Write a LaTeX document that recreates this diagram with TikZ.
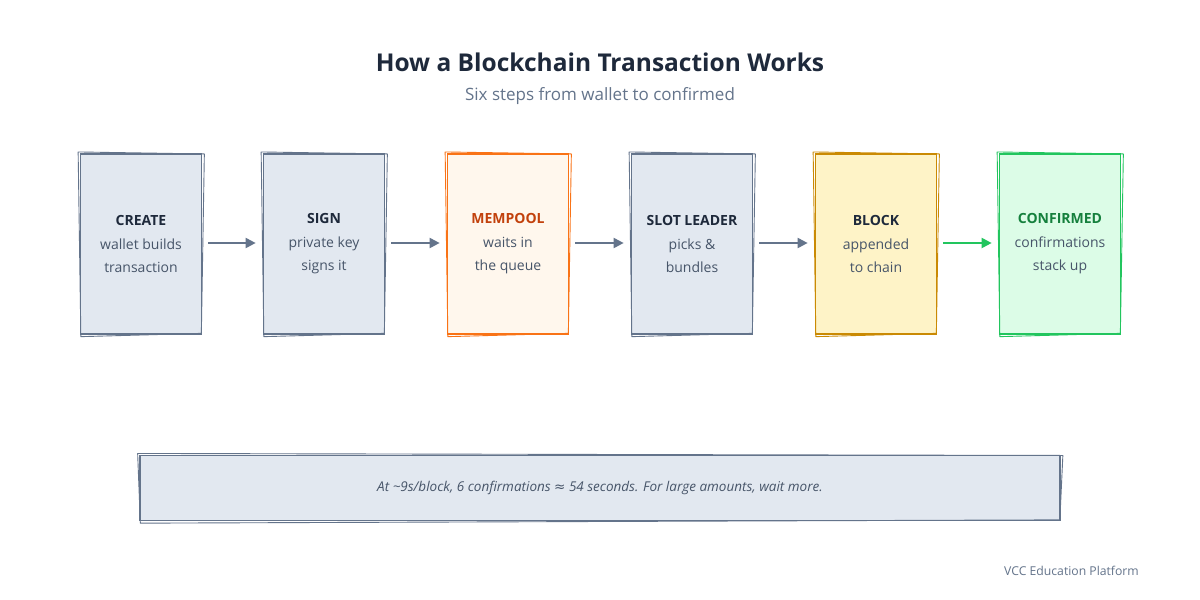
\documentclass[tikz,border=0pt]{standalone}
\usepackage{fontspec}
\setmainfont{Open Sans}
\newfontfamily\symfont{DejaVu Sans}
\usetikzlibrary{arrows.meta,positioning}
\definecolor{slatefill}{HTML}{E2E8F0}
\definecolor{slateline}{HTML}{64748B}
\definecolor{darktext}{HTML}{1E293B}
\definecolor{bodytext}{HTML}{475569}
\definecolor{subtext}{HTML}{64748B}
\definecolor{orfill}{HTML}{FFF7ED}
\definecolor{orline}{HTML}{F97316}
\definecolor{ortext}{HTML}{C2410C}
\definecolor{yefill}{HTML}{FEF3C7}
\definecolor{yeline}{HTML}{CA8A04}
\definecolor{grfill}{HTML}{DCFCE7}
\definecolor{grline}{HTML}{22C55E}
\definecolor{grtext}{HTML}{15803D}
\definecolor{foottext}{HTML}{64748B}
\newcommand{\roughbox}[2]{%
  \draw[#2,line width=0.9pt,line join=round]
    ([shift={(-1.5,-1.2)}]#1.north west) -- ([shift={(2,0.8)}]#1.north east)
    -- ([shift={(-1,-1.5)}]#1.south east) -- ([shift={(1.2,1.8)}]#1.south west) -- cycle;}
\tikzset{
  stepbox/.style={draw=#1,line width=1.7pt,minimum width=121pt,minimum height=180pt,
    align=center,inner sep=0pt,font=\fontsize{14}{23.5}\selectfont,text=bodytext},
  flowarrow/.style={line width=2pt,-{Triangle[length=10pt,width=10pt]},shorten <=6pt,shorten >=7pt},
}
\begin{document}
\begin{tikzpicture}[x=1pt,y=-1pt]
\useasboundingbox[fill=white] (0,0) rectangle (1200,600);
\node[font=\fontsize{24.5}{28}\bfseries\selectfont,text=darktext] (title) at (600,62) {How a Blockchain Transaction Works};
\node[font=\fontsize{17}{20}\selectfont,text=subtext] (subtitle) at (600,96) {Six steps from wallet to confirmed};

\node[stepbox=slateline,fill=slatefill] (b1) at (141,244) {\textbf{\color{darktext}CREATE}\\wallet builds\\transaction};
\node[stepbox=slateline,fill=slatefill] (b2) at (324,244) {\textbf{\color{darktext}SIGN}\\private key\\signs it};
\node[stepbox=orline,fill=orfill] (b3) at (508,244) {\textbf{\color{ortext}MEMPOOL}\\waits in\\the queue};
\node[stepbox=slateline,fill=slatefill] (b4) at (692,244) {\textbf{\color{darktext}SLOT LEADER}\\picks \&\\bundles};
\node[stepbox=yeline,fill=yefill] (b5) at (876,244) {\textbf{\color{darktext}BLOCK}\\appended\\to chain};
\node[stepbox=grline,fill=grfill] (b6) at (1060,244) {\textbf{\color{grtext}CONFIRMED}\\confirmations\\stack up};
\roughbox{b1}{slateline}
\roughbox{b2}{slateline}
\roughbox{b3}{orline}
\roughbox{b4}{slateline}
\roughbox{b5}{yeline}
\roughbox{b6}{grline}

\draw[flowarrow,slateline] ([yshift=1pt]b1.east) -- ([yshift=1pt]b2.west);
\draw[flowarrow,slateline] ([yshift=1pt]b2.east) -- ([yshift=1pt]b3.west);
\draw[flowarrow,slateline] ([yshift=1pt]b3.east) -- ([yshift=1pt]b4.west);
\draw[flowarrow,slateline] ([yshift=1pt]b4.east) -- ([yshift=1pt]b5.west);
\draw[flowarrow,grline] ([yshift=1pt]b5.east) -- ([yshift=1pt]b6.west);

\node[draw=slateline,fill=slatefill,line width=1.7pt,minimum width=920pt,minimum height=65pt,inner sep=0pt,
  font=\fontsize{13.5}{16}\itshape\selectfont,text=bodytext] (note) at (600,488)
  {At \textasciitilde9s/block, 6 confirmations {\symfont\upshape ≈} 54 seconds. For large amounts, wait more.};
\roughbox{note}{slateline}

\node[anchor=east,font=\fontsize{12.2}{14}\selectfont,text=foottext,inner sep=0pt] (footer) at (1139,571) {VCC Education Platform};
\end{tikzpicture}
\end{document}
